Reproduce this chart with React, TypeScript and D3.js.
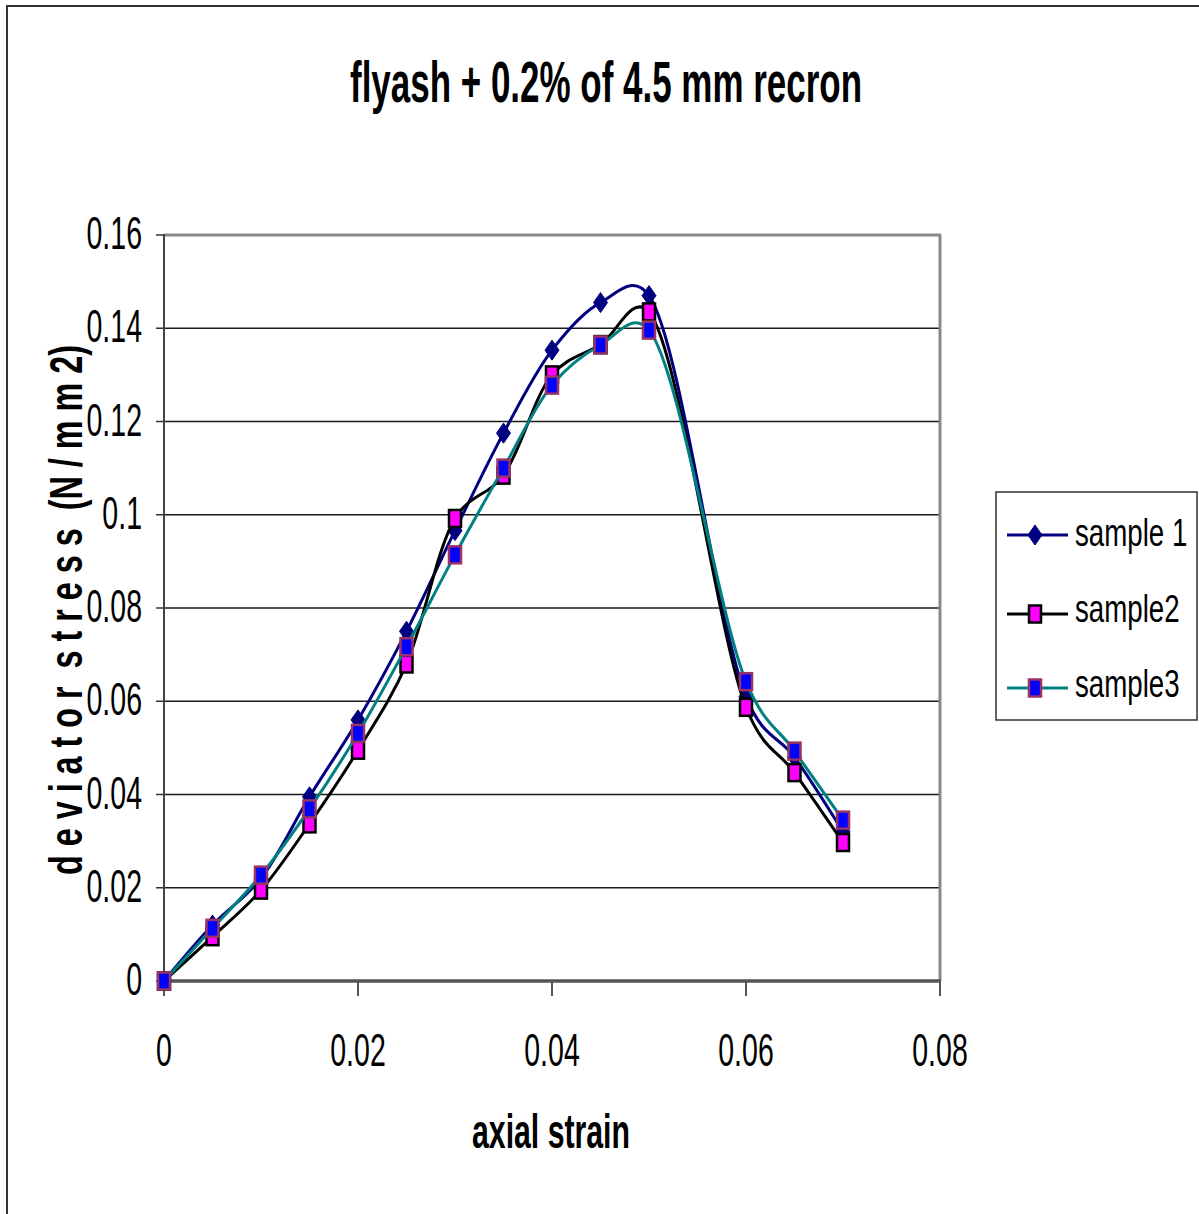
import React from "react";
import * as d3 from "d3";

const strain = [0, 0.005, 0.01, 0.015, 0.02, 0.025, 0.03, 0.035, 0.04, 0.045, 0.05, 0.06, 0.065, 0.07];
const sample1 = [0, 0.012, 0.022, 0.0395, 0.056, 0.075, 0.0966, 0.1175, 0.1353, 0.1455, 0.147, 0.061, 0.048, 0.032];
const sample2 = [0, 0.0095, 0.0195, 0.0337, 0.0495, 0.068, 0.0992, 0.1085, 0.13, 0.1365, 0.1435, 0.0587, 0.0447, 0.0297];
const sample3 = [0, 0.0113, 0.0227, 0.0369, 0.0531, 0.0717, 0.0914, 0.11, 0.1278, 0.1364, 0.1396, 0.0642, 0.0493, 0.0345];
const seriesNames = ["sample 1", "sample2", "sample3"];
const xTicks = [0, 0.02, 0.04, 0.06, 0.08];
const xTickLabels = ["0", "0.02", "0.04", "0.06", "0.08"];
const yTicks = [0, 0.02, 0.04, 0.06, 0.08, 0.1, 0.12, 0.14, 0.16];
const yTickLabels = ["0", "0.02", "0.04", "0.06", "0.08", "0.1", "0.12", "0.14", "0.16"];

const W = 1199;
const H = 1214;
const L = 164, R = 940, T = 235, B = 981;
const SX = 0.62;
const FONT = "'Liberation Sans', Arial, sans-serif";

const x = d3.scaleLinear().domain([0, 0.08]).range([L, R]);
const y = d3.scaleLinear().domain([0, 0.16]).range([B, T]);

const line = d3
  .line<[number, number]>()
  .x((d) => x(d[0]))
  .y((d) => y(d[1]))
  .curve(d3.curveCatmullRom.alpha(0.3));

const styles = [
  { stroke: "#000080", marker: "diamond", fill: "#000080", mstroke: "#000080" },
  { stroke: "#000000", marker: "square", fill: "#FF00FF", mstroke: "#000000" },
  { stroke: "#008080", marker: "square", fill: "#0000FF", mstroke: "#993366" },
];

function Marker({ cx, cy, s }: { cx: number; cy: number; s: any }) {
  if (s.marker === "diamond") {
    return (
      <path
        d={`M${cx},${cy - 10} L${cx + 7},${cy} L${cx},${cy + 10} L${cx - 7},${cy} Z`}
        fill={s.fill}
        stroke={s.mstroke}
        strokeWidth={1}
      />
    );
  }
  return (
    <rect
      x={cx - 6}
      y={cy - 8.5}
      width={12}
      height={17}
      fill={s.fill}
      stroke={s.mstroke}
      strokeWidth={2.5}
    />
  );
}

export default function App() {
  const data = [sample1, sample2, sample3];
  const legendY = [535, 614, 688];
  const legendTextY = [546, 622, 697];
  return (
    <svg
      width={W}
      height={H}
      style={{ position: "absolute", left: 0, top: 0, background: "#fff" }}
      fontFamily={FONT}
    >
      <rect x={0} y={0} width={W} height={H} fill="#fff" />
      {/* outer chart border */}
      <rect x={7} y={6} width={W + 20} height={H + 20} fill="none" stroke="#333" strokeWidth={2} />

      {/* title */}
      <text
        x={606}
        y={102}
        textAnchor="middle"
        fontSize={57}
        fontWeight="bold"
        textLength={512}
        lengthAdjust="spacingAndGlyphs"
      >
        flyash + 0.2% of 4.5 mm recron
      </text>

      {/* gridlines */}
      {yTicks.slice(1, -1).map((t) => (
        <line key={t} x1={L} x2={R} y1={y(t)} y2={y(t)} stroke="#1a1a1a" strokeWidth={1.5} />
      ))}
      {/* plot frame top & right */}
      <line x1={L} x2={R + 1} y1={T} y2={T} stroke="#888" strokeWidth={3} />
      <line x1={R} x2={R} y1={T} y2={B} stroke="#888" strokeWidth={3} />

      {/* y axis */}
      <line x1={L} x2={L} y1={T - 1} y2={B + 1} stroke="#444" strokeWidth={2} />
      {yTicks.map((t, i) => (
        <g key={t}>
          <line x1={L - 8} x2={L} y1={y(t)} y2={y(t)} stroke="#333" strokeWidth={1.5} />
          <text
            transform={`translate(${142},${y(t) + 14}) scale(${SX},1)`}
            textAnchor="end"
            fontSize={46}
          >
            {yTickLabels[i]}
          </text>
        </g>
      ))}
      {/* x axis */}
      <line x1={L} x2={R + 1} y1={B} y2={B} stroke="#555" strokeWidth={3.5} />
      {xTicks.map((t, i) => (
        <g key={t}>
          <line x1={x(t)} x2={x(t)} y1={B} y2={B + 15} stroke="#555" strokeWidth={2} />
          <text
            transform={`translate(${x(t)},${1066}) scale(${SX},1)`}
            textAnchor="middle"
            fontSize={46}
          >
            {xTickLabels[i]}
          </text>
        </g>
      ))}

      {/* axis titles */}
      <text
        x={551}
        y={1148}
        textAnchor="middle"
        fontSize={48}
        fontWeight="bold"
        textLength={158}
        lengthAdjust="spacingAndGlyphs"
      >
        axial strain
      </text>
      <text
        transform={`translate(82,610) rotate(-90)`}
        textAnchor="middle"
        fontSize={46}
        fontWeight="bold"
        textLength={530}
        lengthAdjust="spacingAndGlyphs"
        style={{ whiteSpace: "pre" }}
      >
        {"d e v i a t o r  s t r e s s  (N / m m 2)"}
      </text>

      {/* series */}
      {data.map((vals, si) => {
        const pts = strain.map((s, i) => [s, vals[i]] as [number, number]);
        return (
          <g key={si}>
            <path d={line(pts) || ""} fill="none" stroke={styles[si].stroke} strokeWidth={3} />
            {pts.map((p, i) => (
              <Marker key={i} cx={x(p[0])} cy={y(p[1])} s={styles[si]} />
            ))}
          </g>
        );
      })}

      {/* legend */}
      <rect x={996} y={492} width={201} height={228} fill="#fff" stroke="#333" strokeWidth={1.5} />
      {seriesNames.map((n, i) => (
        <g key={n}>
          <line x1={1007} x2={1068} y1={legendY[i]} y2={legendY[i]} stroke={styles[i].stroke} strokeWidth={3} />
          <Marker cx={1035} cy={legendY[i]} s={styles[i]} />
          <text
            transform={`translate(1075,${legendTextY[i]}) scale(0.71,1)`}
            fontSize={39}
          >
            {n}
          </text>
        </g>
      ))}
    </svg>
  );
}
